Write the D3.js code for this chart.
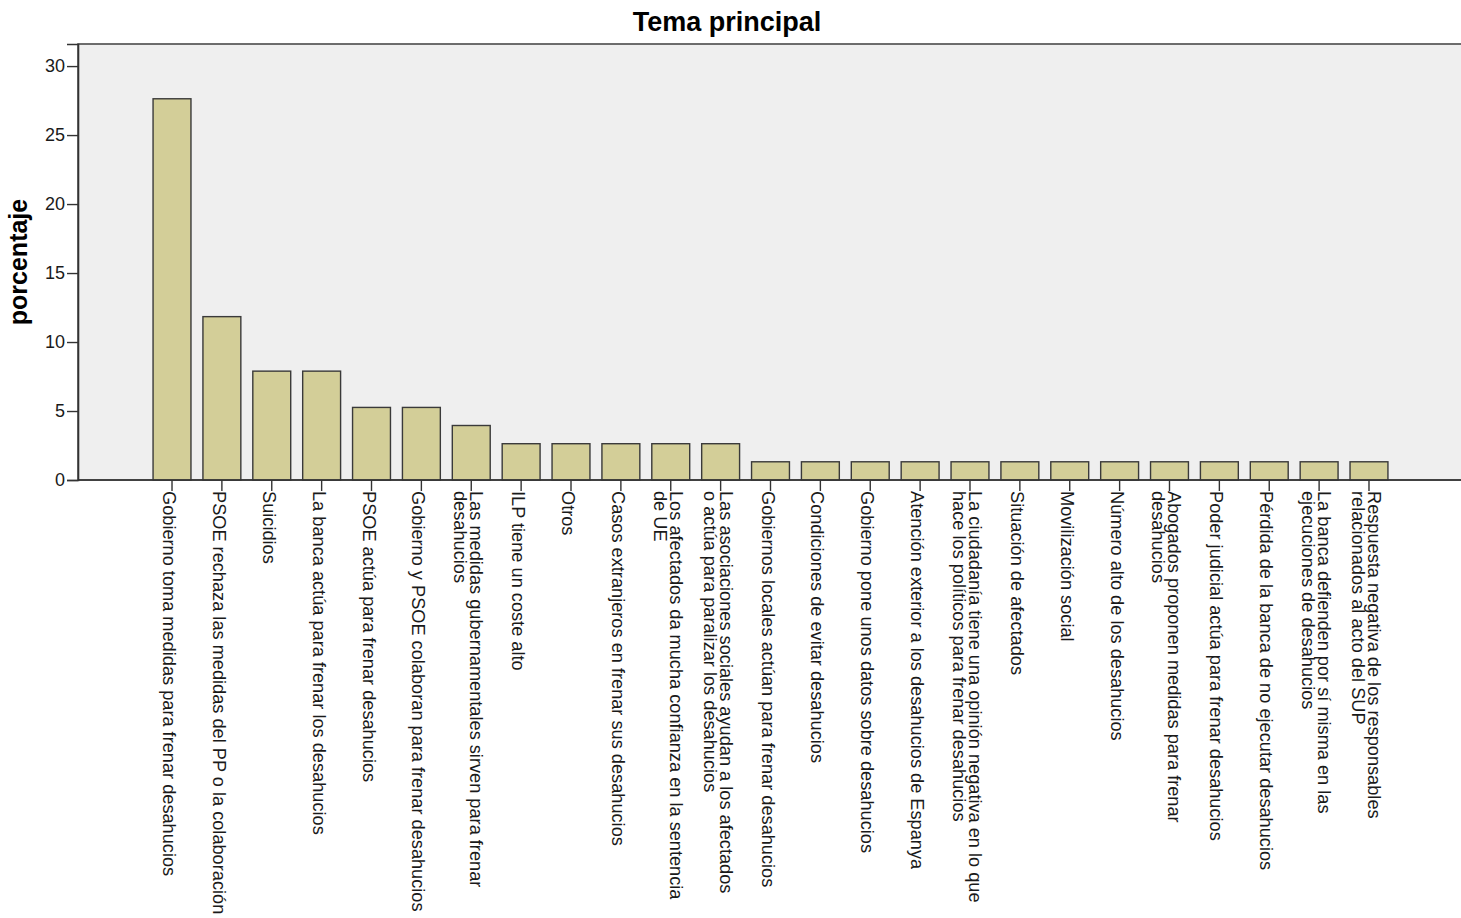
<!DOCTYPE html>
<html>
<head>
<meta charset="utf-8">
<script src="https://cdn.jsdelivr.net/npm/d3@7"></script>
<style>
  html, body { margin: 0; padding: 0; background: #ffffff; }
  svg { display: block; font-family: "Liberation Sans", Arial, sans-serif; }
</style>
</head>
<body>
<svg id="chart" width="1461" height="918"></svg>
<script>
const chartTitle = "Tema principal";
const yAxisTitle = "porcentaje";

const categories = [
  "Gobierno toma medidas para frenar desahucios",
  "PSOE rechaza las medidas del PP o la colaboración",
  "Suicidios",
  "La banca actúa para frenar los desahucios",
  "PSOE actúa para frenar desahucios",
  "Gobierno y PSOE colaboran para frenar desahucios",
  "Las medidas gubernamentales sirven para frenar\ndesahucios",
  "ILP tiene un coste alto",
  "Otros",
  "Casos extranjeros en frenar sus desahucios",
  "Los afectados da mucha confianza en la sentencia\nde UE",
  "Las asociaciones sociales ayudan a los afectados\no actúa para paralizar los desahucios",
  "Gobiernos locales actúan para frenar desahucios",
  "Condiciones de evitar desahucios",
  "Gobierno pone unos datos sobre desahucios",
  "Atención exterior a los desahucios de Espanya",
  "La ciudadanía tiene una opinión negativa en lo que\nhace los políticos para frenar desahucios",
  "Situación de afectados",
  "Movilización social",
  "Número alto de los desahucios",
  "Abogados proponen medidas para frenar\ndesahucios",
  "Poder judicial actúa para frenar desahucios",
  "Pérdida de la banca de no ejecutar desahucios",
  "La banca defienden por sí misma en las\nejecuciones de desahucios",
  "Respuesta negativa de los responsables\nrelacionados al acto del SUP"
];

const percentages = [
  27.63, 11.84, 7.89, 7.89, 5.26, 5.26, 3.95,
  2.63, 2.63, 2.63, 2.63, 2.63,
  1.32, 1.32, 1.32, 1.32, 1.32, 1.32, 1.32, 1.32, 1.32, 1.32, 1.32, 1.32, 1.32
];

const yTicks = [0, 5, 10, 15, 20, 25, 30];

const svg = d3.select("#chart");
const plotLeft = 78, plotRight = 1463, plotTop = 44, plotBottom = 480;

const x = d3.scaleBand()
  .domain(categories)
  .range([plotLeft, plotRight])
  .paddingInner(0.24)
  .paddingOuter(1.505);

const y = d3.scaleLinear()
  .domain([0, 31.6])
  .range([plotBottom, plotTop]);

// plot background
svg.append("rect")
  .attr("x", plotLeft).attr("y", plotTop)
  .attr("width", plotRight - plotLeft + 10).attr("height", plotBottom - plotTop)
  .attr("fill", "#efefef")
  .attr("stroke", "#4a4a4a")
  .attr("stroke-width", 1.6);

// bars
svg.append("g").selectAll("rect")
  .data(categories)
  .join("rect")
  .attr("x", d => x(d))
  .attr("y", (d, i) => y(percentages[i]))
  .attr("width", x.bandwidth())
  .attr("height", (d, i) => y(0) - y(percentages[i]))
  .attr("fill", "#d3ce98")
  .attr("stroke", "#3a3a3a")
  .attr("stroke-width", 1.4);

// y axis
const yAxis = svg.append("g")
  .attr("transform", `translate(${plotLeft},0)`)
  .call(d3.axisLeft(y).tickValues(yTicks).tickSize(11).tickPadding(2).tickFormat(d3.format("d")));
yAxis.select(".domain").attr("stroke", "#333").attr("stroke-width", 1.6);
yAxis.selectAll(".tick line").attr("stroke", "#333").attr("stroke-width", 1.4);
yAxis.selectAll(".tick text")
  .attr("font-size", 18)
  .attr("fill", "#1a1a1a")
  .attr("font-family", "'Liberation Sans', Arial, sans-serif");

// x axis
const xAxis = svg.append("g")
  .attr("transform", `translate(0,${plotBottom})`)
  .call(d3.axisBottom(x).tickSize(11).tickFormat(""));
xAxis.select(".domain").remove();
xAxis.selectAll(".tick line").attr("stroke", "#333").attr("stroke-width", 1.4);
svg.append("line")
  .attr("x1", plotLeft).attr("x2", 1461)
  .attr("y1", plotBottom).attr("y2", plotBottom)
  .attr("stroke", "#333").attr("stroke-width", 1.6);

// category labels (rotated, reading downward)
const lineGap = 16;
xAxis.selectAll(".tick").each(function(d) {
  const lines = d.split("\n");
  const t = d3.select(this).append("text")
    .attr("transform", "translate(0,11) rotate(90)")
    .attr("text-anchor", "start")
    .attr("font-size", 18.2)
    .attr("fill", "#1a1a1a")
    .attr("font-family", "'Liberation Sans', Arial, sans-serif");
  const n = lines.length;
  lines.forEach((ln, i) => {
    t.append("tspan")
      .attr("x", 0)
      .attr("y", 9 + (i - (n - 1) / 2) * lineGap)
      .text(ln);
  });
});

// title
svg.append("text")
  .attr("x", 727).attr("y", 31)
  .attr("text-anchor", "middle")
  .attr("font-size", 27)
  .attr("font-weight", "bold")
  .attr("fill", "#000")
  .text(chartTitle);

// y axis title
svg.append("text")
  .attr("transform", `translate(27,${(plotTop + plotBottom) / 2}) rotate(-90)`)
  .attr("text-anchor", "middle")
  .attr("font-size", 25)
  .attr("font-weight", "bold")
  .attr("fill", "#000")
  .text(yAxisTitle);
</script>
</body>
</html>
